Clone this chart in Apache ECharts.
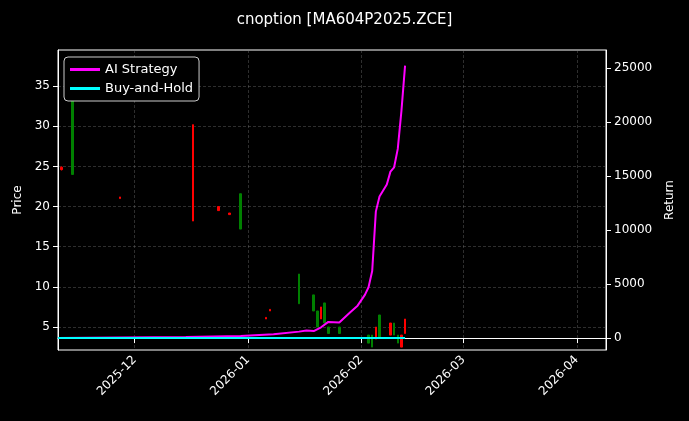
<!DOCTYPE html>
<html><head><meta charset="utf-8">
<script src="https://cdn.jsdelivr.net/npm/echarts@6/dist/echarts.min.js"></script>
<style>html,body{margin:0;background:#000}#c{width:689px;height:421px}</style>
</head><body><div id="c"></div>
<script>
// candles: [date, open, close, low, high]
const candles = [
  ['2025-11-11', 24.6, 24.9, 24.5, 25.0],
  ['2025-11-14', 33.5, 24.0, 24.0, 33.5],
  ['2025-11-27', 21.0, 21.2, 21.0, 21.2],
  ['2025-12-17', 18.2, 30.2, 18.2, 30.2],
  ['2025-12-24', 19.5, 20.0, 19.5, 20.0],
  ['2025-12-27', 19.0, 19.2, 19.0, 19.2],
  ['2025-12-30', 21.6, 17.2, 17.2, 21.6],
  ['2026-01-06', 6.0, 6.2, 6.0, 6.2],
  ['2026-01-07', 7.0, 7.2, 7.0, 7.2],
  ['2026-01-15', 11.6, 7.9, 7.9, 11.6],
  ['2026-01-19', 9.0, 7.0, 7.0, 9.0],
  ['2026-01-20', 7.0, 5.0, 5.0, 7.0],
  ['2026-01-21', 6.0, 7.5, 6.0, 7.5],
  ['2026-01-22', 8.0, 5.5, 5.5, 8.0],
  ['2026-01-23', 5.0, 4.2, 4.2, 5.0],
  ['2026-01-26', 5.0, 4.2, 4.2, 5.0],
  ['2026-02-03', 4.0, 3.0, 3.0, 4.0],
  ['2026-02-04', 4.0, 2.5, 2.5, 4.0],
  ['2026-02-05', 3.5, 5.0, 3.5, 5.0],
  ['2026-02-06', 6.5, 3.6, 3.6, 6.5],
  ['2026-02-09', 4.0, 5.5, 4.0, 5.5],
  ['2026-02-10', 5.5, 4.0, 4.0, 5.5],
  ['2026-02-11', 4.0, 3.0, 3.0, 4.0],
  ['2026-02-12', 2.5, 4.0, 2.5, 4.0],
  ['2026-02-13', 4.2, 6.0, 4.2, 6.0]
];
const aiDates = ['2025-11-10','2025-12-15','2025-12-30','2026-01-08','2026-01-15','2026-01-17','2026-01-19','2026-01-21','2026-01-23','2026-01-26','2026-01-29','2026-01-31','2026-02-02','2026-02-03','2026-02-04','2026-02-05','2026-02-06','2026-02-08','2026-02-09','2026-02-10','2026-02-11','2026-02-12','2026-02-13'];
const aiValues = [0, 100, 200, 350, 600, 700, 650, 1000, 1500, 1450, 2400, 3000, 4000, 4700, 6200, 11700, 13100, 14200, 15400, 15800, 17500, 21000, 25200];
const bhDates = ['2025-11-10','2026-02-13'];
const bhValues = [0, 0];
const xTicks = ['2025-12-01','2026-01-01','2026-02-01','2026-03-01','2026-04-01'];
const priceTicks = [5,10,15,20,25,30,35];
const returnTicks = [0,5000,10000,15000,20000,25000];
const t = d => Date.parse(d + 'T00:00:00Z');
const grid = {color:'rgba(128,128,128,0.45)', type:[3,2], width:0.8};
const chart = echarts.init(document.getElementById('c'));
chart.setOption({
  backgroundColor:'#000',
  animation:false,
  title:{text:'cnoption [MA604P2025.ZCE]',left:'center',top:8,textStyle:{color:'#fff',fontSize:15,fontWeight:'normal',fontFamily:'DejaVu Sans'}},
  legend:{left:64,top:57,orient:'vertical',itemGap:6,itemWidth:30,itemHeight:3,
    backgroundColor:'#000',borderColor:'#ccc',borderWidth:1,borderRadius:4,padding:[6,6],
    textStyle:{color:'#fff',fontSize:13,fontFamily:'DejaVu Sans'},
    data:[{name:'AI Strategy',icon:'rect'},{name:'Buy-and-Hold',icon:'rect'}]},
  grid:{left:58,right:83,top:50,bottom:71,show:true,borderColor:'#fff',borderWidth:1},
  xAxis:{type:'value',min:t('2025-11-10'),max:t('2026-04-09'),
    axisLine:{lineStyle:{color:'#fff'}},
    axisTick:{show:true,customValues:xTicks.map(t),lineStyle:{color:'#fff'}},
    splitLine:{show:true,lineStyle:grid},
    axisLabel:{color:'#fff',rotate:45,fontSize:12,fontFamily:'DejaVu Sans',
      customValues:xTicks.map(t),
      formatter:v=>{const d=new Date(v);return d.getUTCFullYear()+'-'+String(d.getUTCMonth()+1).padStart(2,'0');}}
  },
  yAxis:[
    {type:'value',min:2.14,max:39.5,name:'Price',nameLocation:'middle',nameGap:32,nameTextStyle:{color:'#fff',fontSize:12,fontFamily:'DejaVu Sans'},
      axisLine:{show:true,lineStyle:{color:'#fff'}},axisTick:{show:true,customValues:priceTicks},
      axisLabel:{color:'#fff',fontSize:12,fontFamily:'DejaVu Sans',customValues:priceTicks},
      splitLine:{show:true,lineStyle:grid}},
    {type:'value',min:-1100,max:26650,name:'Return',nameLocation:'middle',nameGap:58,nameTextStyle:{color:'#fff',fontSize:12,fontFamily:'DejaVu Sans'},
      axisLine:{show:true,lineStyle:{color:'#fff'}},axisTick:{show:true,customValues:returnTicks},
      axisLabel:{color:'#fff',fontSize:12,fontFamily:'DejaVu Sans',customValues:returnTicks,formatter:v=>String(v)},
      splitLine:{show:false}}
  ],
  series:[
    {type:'candlestick',yAxisIndex:0,barWidth:2,data:candles.map(c=>[t(c[0]),c[1],c[2],c[3],c[4]]),
      itemStyle:{color:'#ff0000',color0:'#008000',borderColor:'#ff0000',borderColor0:'#008000',borderWidth:1}},
    {name:'AI Strategy',type:'line',yAxisIndex:1,showSymbol:false,color:'#ff00ff',lineStyle:{width:2,color:'#ff00ff'},
      data:aiDates.map((d,i)=>[t(d),aiValues[i]])},
    {name:'Buy-and-Hold',type:'line',yAxisIndex:1,showSymbol:false,color:'#00ffff',lineStyle:{width:2,color:'#00ffff'},
      data:bhDates.map((d,i)=>[t(d),bhValues[i]])}
  ]
});
</script></body></html>
